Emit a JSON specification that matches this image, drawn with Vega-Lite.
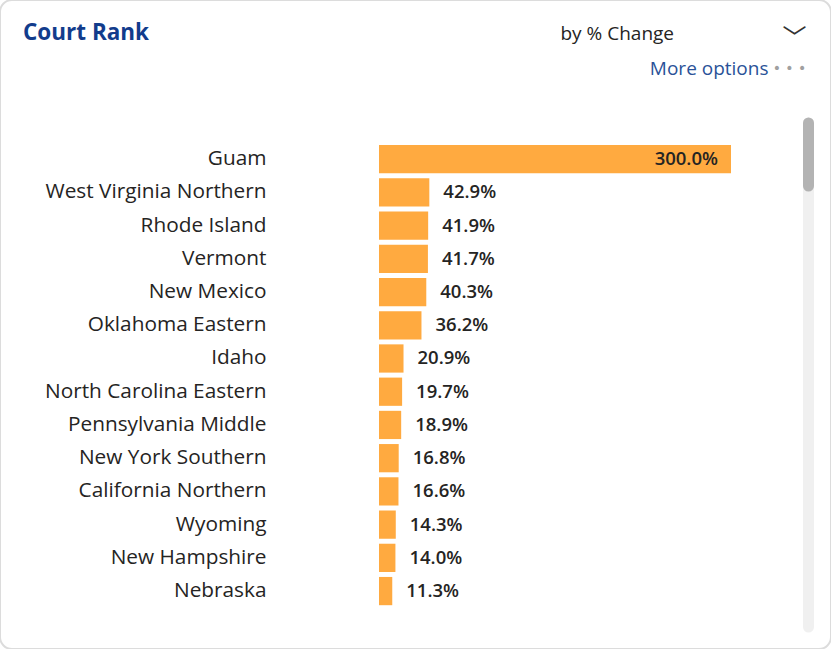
{
  "$schema": "https://vega.github.io/schema/vega-lite/v6.json",
  "width": 831,
  "height": 649,
  "autosize": {"type": "none"},
  "padding": 0,
  "background": "#ffffff",
  "config": {
    "view": {"stroke": "#dcdcdc", "strokeWidth": 2, "cornerRadius": 12},
    "font": "Open Sans",
    "title": {"offset": 0}
  },
  "title": {
    "text": "Court Rank",
    "anchor": "start",
    "frame": "group",
    "orient": "top",
    "offset": 0,
    "baseline": "alphabetic",
    "dx": 23,
    "dy": 62,
    "fontSize": 22.5,
    "fontWeight": "bold",
    "color": "#123c8c",
    "font": "Open Sans"
  },
  "data": {
    "values": [
      {"court": "Guam", "change": 3.0},
      {"court": "West Virginia Northern", "change": 0.429},
      {"court": "Rhode Island", "change": 0.419},
      {"court": "Vermont", "change": 0.417},
      {"court": "New Mexico", "change": 0.403},
      {"court": "Oklahoma Eastern", "change": 0.362},
      {"court": "Idaho", "change": 0.209},
      {"court": "North Carolina Eastern", "change": 0.197},
      {"court": "Pennsylvania Middle", "change": 0.189},
      {"court": "New York Southern", "change": 0.168},
      {"court": "California Northern", "change": 0.166},
      {"court": "Wyoming", "change": 0.143},
      {"court": "New Hampshire", "change": 0.140},
      {"court": "Nebraska", "change": 0.113}
    ]
  },
  "resolve": {"axis": {"x": "independent", "y": "independent"}},
  "layer": [
    {
      "mark": {"type": "bar", "color": "#FFAA40"},
      "encoding": {
        "y": {
          "field": "court",
          "type": "nominal",
          "sort": ["Guam", "West Virginia Northern", "Rhode Island", "Vermont", "New Mexico", "Oklahoma Eastern", "Idaho", "North Carolina Eastern", "Pennsylvania Middle", "New York Southern", "California Northern", "Wyoming", "New Hampshire", "Nebraska"],
          "scale": {"paddingInner": 0.15, "paddingOuter": 0, "range": [145, 605.2]},
          "axis": {
            "orient": "left",
            "offset": -379,
            "domain": false,
            "ticks": false,
            "grid": false,
            "labelPadding": 113,
            "labelFont": "Open Sans",
            "labelFontSize": 20.8,
            "labelColor": "#252423",
            "labelLimit": 400,
            "title": "﹀",
            "titleAngle": 0,
            "titleX": 415,
            "titleY": 38,
            "titleAlign": "center",
            "titleBaseline": "middle",
            "titleFont": "Noto Sans CJK SC",
            "titleFontWeight": "normal",
            "titleFontSize": 24,
            "titleColor": "#333333"
          }
        },
        "x": {
          "field": "change",
          "type": "quantitative",
          "scale": {"domain": [-3.2301, 3.8523], "nice": false, "zero": false},
          "axis": {
            "orient": "top",
            "offset": -185.5,
            "values": [3.6605],
            "domain": false,
            "grid": false,
            "labels": false,
            "ticks": true,
            "tickSize": 63,
            "tickWidth": 11,
            "tickCap": "round",
            "tickColor": "#b3b3b3",
            "zindex": 2,
            "title": "by % Change",
            "titleX": 560,
            "titleY": -146.5,
            "titleAlign": "left",
            "titleBaseline": "alphabetic",
            "titleFont": "Open Sans",
            "titleFontWeight": "normal",
            "titleFontSize": 19,
            "titleColor": "#252423"
          }
        }
      }
    },
    {
      "transform": [{"filter": "datum.change < 1"}],
      "mark": {"type": "text", "align": "left", "baseline": "middle", "dx": 14, "fontSize": 18.5, "fontWeight": 600, "color": "#252423"},
      "encoding": {
        "y": {
          "field": "court",
          "type": "nominal",
          "sort": ["Guam", "West Virginia Northern", "Rhode Island", "Vermont", "New Mexico", "Oklahoma Eastern", "Idaho", "North Carolina Eastern", "Pennsylvania Middle", "New York Southern", "California Northern", "Wyoming", "New Hampshire", "Nebraska"],
          "axis": {
            "orient": "right",
            "domain": false,
            "ticks": false,
            "labels": false,
            "grid": false,
            "title": "More options",
            "titleAngle": 0,
            "titleX": -63,
            "titleY": 74,
            "titleAlign": "right",
            "titleBaseline": "alphabetic",
            "titleFont": "Open Sans",
            "titleFontWeight": "normal",
            "titleFontSize": 19,
            "titleColor": "#2a5298"
          }
        },
        "x": {
          "field": "change",
          "type": "quantitative",
          "axis": {
            "orient": "bottom",
            "offset": -22.5,
            "values": [3.6605],
            "domain": false,
            "grid": false,
            "labels": false,
            "ticks": true,
            "tickSize": -504,
            "tickWidth": 11,
            "tickCap": "round",
            "tickColor": "#f0f0f0",
            "zindex": 1,
            "title": "• • •",
            "titleX": 789,
            "titleY": -558.5,
            "titleAlign": "center",
            "titleBaseline": "middle",
            "titleFont": "DejaVu Sans",
            "titleFontSize": 14,
            "titleFontWeight": "normal",
            "titleColor": "#a0a0a0"
          }
        },
        "text": {"field": "change", "type": "quantitative", "format": ".1%"}
      }
    },
    {
      "transform": [{"filter": "datum.change >= 1"}],
      "mark": {"type": "text", "align": "right", "baseline": "middle", "dx": -13, "fontSize": 18.5, "fontWeight": 600, "color": "#252423"},
      "encoding": {
        "y": {"field": "court", "type": "nominal", "sort": ["Guam", "West Virginia Northern", "Rhode Island", "Vermont", "New Mexico", "Oklahoma Eastern", "Idaho", "North Carolina Eastern", "Pennsylvania Middle", "New York Southern", "California Northern", "Wyoming", "New Hampshire", "Nebraska"], "axis": null},
        "x": {"field": "change", "type": "quantitative", "axis": null},
        "text": {"field": "change", "type": "quantitative", "format": ".1%"}
      }
    }
  ]
}
